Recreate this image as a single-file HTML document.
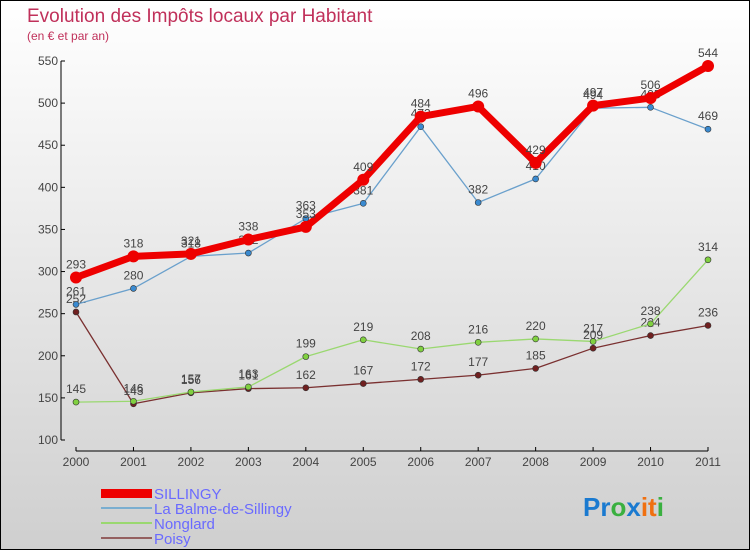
<!DOCTYPE html>
<html><head><meta charset="utf-8"><style>
body{margin:0}
#c{width:748px;height:548px;border:1px solid #000;background:linear-gradient(#fff,#cfcfcf);position:relative;font-family:"Liberation Sans",sans-serif;overflow:hidden}
</style></head><body>
<div id="c">
<svg width="748" height="548" id="s" style="position:absolute;left:0;top:0">
<text x="26" y="21" font-size="19" fill="#c0305a">Evolution des Impôts locaux par Habitant</text>
<text x="26" y="39" font-size="12" fill="#c0305a">(en € et par an)</text>
<g id="axes"></g><g id="series"></g>
<g font-size="15" fill="#6a6aff">
<rect x="100" y="488" width="51" height="9" fill="#e00"/>
<text x="153" y="498">SILLINGY</text>
<rect x="100" y="506" width="51" height="2" fill="#7aaed0"/>
<text x="153" y="513">La Balme-de-Sillingy</text>
<rect x="100" y="521" width="51" height="2" fill="#9ad870"/>
<text x="153" y="528">Nonglard</text>
<rect x="100" y="536" width="51" height="2" fill="#946060"/>
<text x="153" y="543">Poisy</text>
</g>
<text x="582" y="515" font-size="26" font-weight="bold"><tspan fill="#1a7ad0">Pr</tspan><tspan fill="#3ab040">o</tspan><tspan fill="#1a7ad0">x</tspan><tspan fill="#f07010">it</tspan><tspan fill="#3ab040">i</tspan></text>
</svg>
</div>
<script>
const years=["2000","2001","2002","2003","2004","2005","2006","2007","2008","2009","2010","2011"];
const yTicks=[100,150,200,250,300,350,400,450,500,550];
const sillingy=[293,318,321,338,353,409,484,496,429,497,506,544];
const balme=[261,280,318,322,363,381,472,382,410,494,495,469];
const nonglard=[145,146,157,163,199,219,208,216,220,217,238,314];
const poisy=[252,143,156,161,162,167,172,177,185,209,224,236];
const NS="http://www.w3.org/2000/svg";
const X=i=>75+i*(632/11);
const Y=v=>439-(v-100)*(379/450);
function mk(t,a,p){const e=document.createElementNS(NS,t);for(const k in a)e.setAttribute(k,a[k]);p.appendChild(e);return e;}
const ax=document.getElementById('axes');
let yl=mk('line',{x1:60,y1:Y(550),x2:60,y2:Y(100),stroke:'#000'},ax);


yTicks.forEach(v=>{
 mk('line',{x1:60,y1:Y(v),x2:64,y2:Y(v),stroke:'#000'},ax);
 const t=mk('text',{x:57,y:Y(v)+4,'font-size':12,fill:'#444','text-anchor':'end'},ax);
 t.textContent=v;
 
 
});
let xl=mk('line',{x1:75,y1:450,x2:X(11),y2:450,stroke:'#000'},ax);


years.forEach((y,i)=>{
 mk('line',{x1:X(i),y1:446,x2:X(i),y2:450,stroke:'#000'},ax);
 const t=mk('text',{x:X(i),y:465,'font-size':12,fill:'#444','text-anchor':'middle'},ax);
 t.textContent=y;
 
 
});
const sg=document.getElementById('series');
function draw(data,name,color,w,r,dot){
 const g=mk('g',{},sg);
 
 
 const pl=mk('polyline',{points:data.map((v,i)=>X(i)+','+Y(v)).join(' '),fill:'none',stroke:color,'stroke-width':w,'stroke-linejoin':'round'},g);
 
 
 data.forEach((v,i)=>{
  const c=mk('circle',{cx:X(i),cy:Y(v),r:r,fill:dot,stroke:'#333','stroke-width':w>3?0:0.6},g);
  
  
  const t=mk('text',{x:X(i),y:Y(v)-9,'font-size':12,fill:'#444','text-anchor':'middle'},g);
  t.textContent=v;
  
  
 });
}
draw(poisy,'poisy','#7a3030',1.3,3,'#702020');
draw(nonglard,'nonglard','#9ad870',1.3,3,'#80d040');
draw(balme,'balme','#6aa0cc',1.3,3,'#3a8ad0');
draw(sillingy,'sillingy','#ee0000',7,6,'#ee0000');
</script>
</body></html>
